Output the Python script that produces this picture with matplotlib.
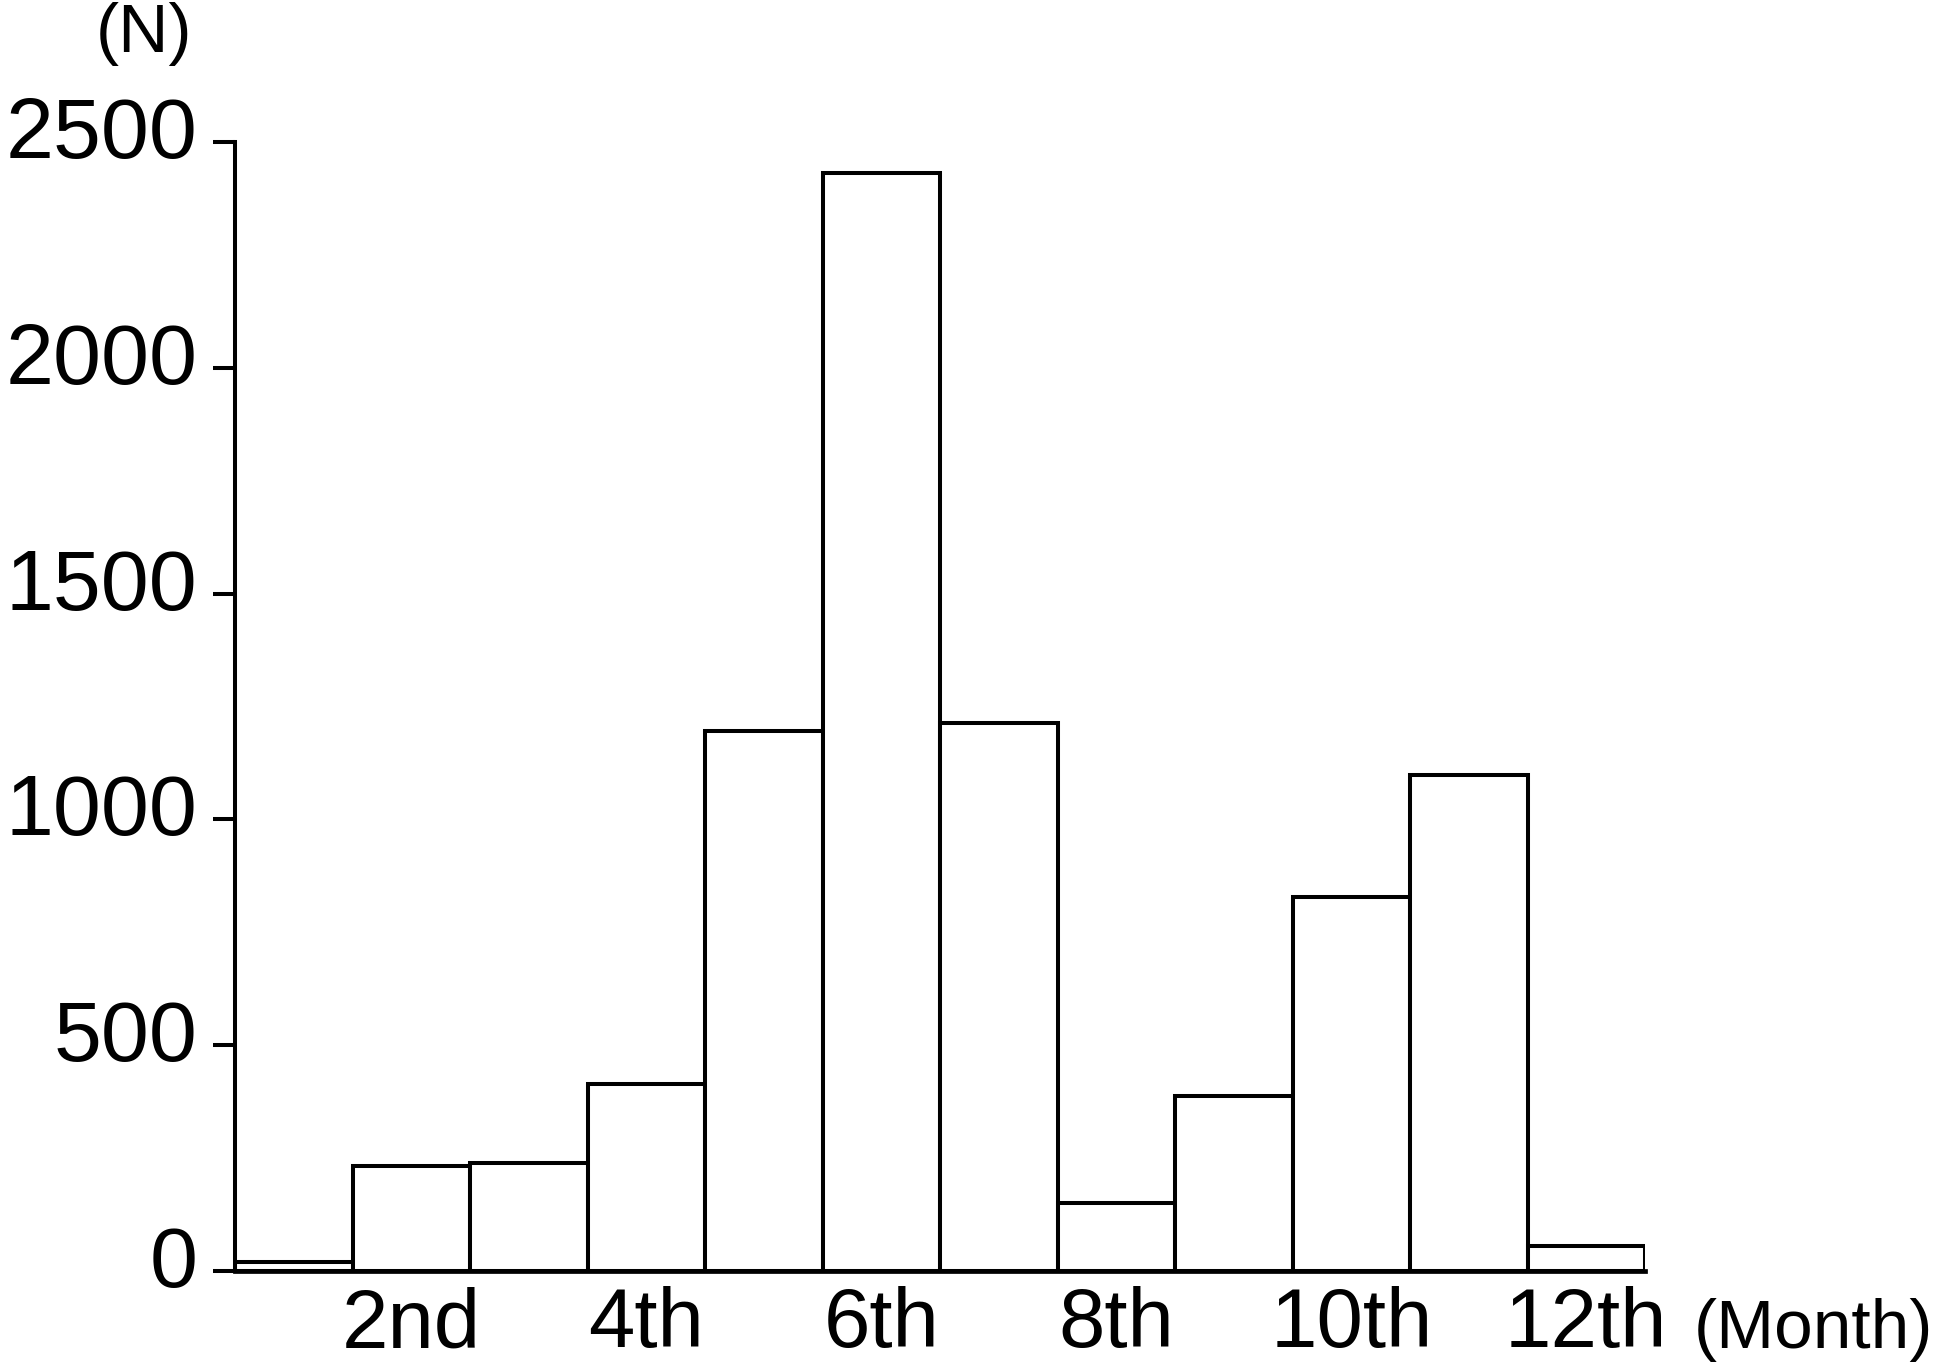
import matplotlib
matplotlib.use("Agg")
import matplotlib.pyplot as plt
import matplotlib.transforms as mtransforms

months = [1, 2, 3, 4, 5, 6, 7, 8, 9, 10, 11, 12]
counts = [20, 233, 239, 414, 1196, 2431, 1213, 151, 387, 829, 1098, 55]
xtick_months = [2, 4, 6, 8, 10, 12]
xtick_labels = ["2nd", "4th", "6th", "8th", "10th", "12th"]
ytick_values = [0, 500, 1000, 1500, 2000, 2500]

plt.rcParams['font.family'] = ['Liberation Sans', 'DejaVu Sans']

fig = plt.figure(figsize=(19.42, 13.66), dpi=100)
ax = fig.add_axes([235/1942, 1 - 1271/1366, (1645 - 235)/1942, (1271 - 142)/1366])

ax.bar(months, counts, width=1.0, facecolor='white', edgecolor='black', linewidth=2.9)

ax.set_xlim(0.5, 12.5)
ax.set_ylim(0, 2500)

for s in ['top', 'right']:
    ax.spines[s].set_visible(False)
ax.spines['left'].set_linewidth(2.9)
ax.spines['bottom'].set_linewidth(3.4)
ax.spines['left'].set_bounds(0, 2500)

ax.set_yticks(ytick_values)
ax.set_yticklabels([str(v) for v in ytick_values])
ax.tick_params(axis='y', direction='out', length=16, width=2.9, pad=11, labelsize=62)

ax.set_xticks(xtick_months)
ax.set_xticklabels(xtick_labels)
ax.tick_params(axis='x', length=0, pad=11, labelsize=60)

offset = mtransforms.ScaledTranslation(0, 15/100, fig.dpi_scale_trans)
for lbl in ax.get_yticklabels():
    lbl.set_transform(lbl.get_transform() + offset)

fig.text(144/1942, 1 - 34/1366, "(N)", ha='center', va='center', fontsize=50)
fig.text(1694/1942, 1 - 1330/1366, "(Month)", ha='left', va='center', fontsize=50)

fig.savefig("out.png", dpi=100)
